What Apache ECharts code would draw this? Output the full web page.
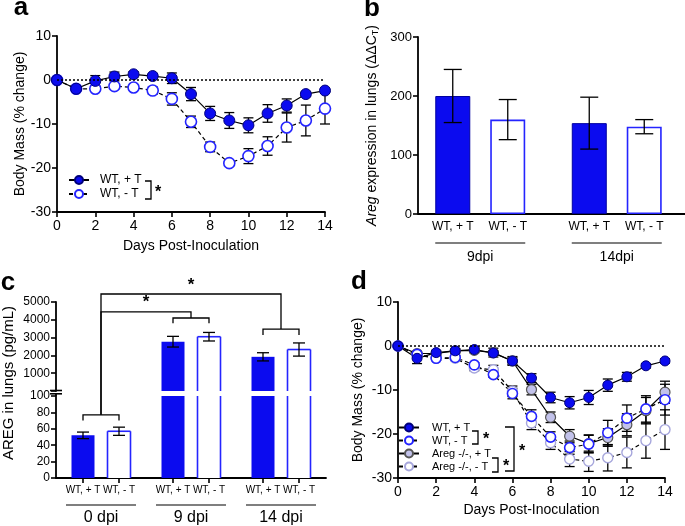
<!DOCTYPE html>
<html><head><meta charset="utf-8">
<script src="https://cdn.jsdelivr.net/npm/echarts@6/dist/echarts.min.js"></script>
<style>html,body{margin:0;padding:0;background:#fff}#c{width:685px;height:526px}</style>
</head><body><div id="c"></div>
<script>
// ---------------- DATA ----------------
const days = [0,1,2,3,4,5,6,7,8,9,10,11,12,13,14];

// panel a : body mass (% change)
const aPlus     = [0,-2.0,-0.2,0.8,1.3,0.9,0.4,-3.2,-7.6,-9.2,-10.3,-7.6,-5.8,-3.2,-2.4];
const aPlusErr  = [0,0.5,1.2,1.0,0.6,0.5,1.2,1.5,1.6,1.8,1.7,2.0,1.5,0.5,0.5];
const aMinus    = [0,-2.0,-2.0,-1.4,-1.7,-2.4,-4.3,-9.5,-15.2,-18.9,-17.3,-15.0,-10.8,-9.2,-6.5];
const aMinusErr = [0,0.4,0.5,0.5,0.5,0.8,1.4,1.3,1.1,0.5,1.7,2.1,3.3,3.5,3.5];

// panel b : Areg expression
const bGroups   = ['9dpi','14dpi'];
const bPlus     = [200,154];
const bPlusErr  = [45,44];
const bMinus    = [160,148];
const bMinusErr = [34,12];

// panel c : AREG protein (pg/mL)
const cGroups   = ['0 dpi','9 dpi','14 dpi'];
const cPlus     = [52,2770,1920];
const cPlusErr  = [4,300,230];
const cMinus    = [57,3050,2330];
const cMinusErr = [5,240,370];

// panel d : body mass (% change)
const dWTp     = [0,-2.8,-1.5,-1.1,-0.8,-1.6,-3.4,-7.3,-11.7,-12.9,-11.7,-8.9,-7.0,-4.5,-3.4];
const dWTpErr  = [0,1.2,0.5,0.5,0.5,0.5,1.0,1.0,1.2,1.4,1.6,1.4,1.0,0.5,0.5];
const dWTm     = [0,-1.9,-2.8,-2.6,-4.3,-6.5,-10.8,-16.0,-20.7,-23.1,-22.3,-19.7,-16.4,-14.3,-12.2];
const dWTmErr  = [0,0.5,0.5,0.5,0.5,0.6,1.2,1.5,1.2,1.5,2.0,2.8,3.0,3.0,3.5];
const dKOp     = [0,-1.7,-1.7,-1.1,-1.0,-1.5,-3.4,-9.9,-16.2,-20.5,-22.2,-20.8,-17.9,-14.7,-10.5];
const dKOpErr  = [0,0.5,0.5,0.5,0.5,1.0,0.8,1.2,1.2,1.5,2.0,2.0,2.5,3.0,2.5];
const dKOm     = [0,-2.0,-2.8,-2.8,-5.0,-5.4,-10.3,-17.5,-22.0,-25.7,-26.2,-25.4,-24.2,-21.5,-19.0];
const dKOmErr  = [0,0.5,0.5,0.5,0.6,1.0,1.2,1.5,1.5,1.7,2.3,3.0,3.5,4.0,4.5];

const seriesNames = ['WT, + T','WT, - T','Areg -/-, + T','Areg -/-, - T'];

// ---------------- STYLE ----------------
const FONT = '"Liberation Sans", Arial, Helvetica, sans-serif';
const BLUE = '#0b0bef';
const OPENBLUE = '#2424ff';
const filledStyle = {color: BLUE, borderColor: '#00007a', borderWidth: 1};
const openStyle = {color: '#fff', borderColor: OPENBLUE, borderWidth: 1.6};
const koFilled = {color: '#c2c2ea', borderColor: '#555', borderWidth: 1.2};
const koOpen = {color: '#fff', borderColor: '#a6a6dc', borderWidth: 1.4};

function valAxis(o) {
  return Object.assign({
    type: 'value',
    axisLine: {show: true, onZero: false, lineStyle: {color: '#000', width: 1.8}},
    axisTick: {show: true, inside: false, length: 5, lineStyle: {color: '#000', width: 1.6}},
    axisLabel: {color: '#000', fontSize: 14, fontFamily: FONT, margin: 6},
    splitLine: {show: false},
    nameTextStyle: {color: '#000', fontSize: 14, fontFamily: FONT}
  }, o);
}

function errRender(capHalf, offsetPx) {
  return function (params, api) {
    const x = api.value(0), lo = api.value(1), hi = api.value(2);
    if (isNaN(lo) || isNaN(hi)) return null;
    const top = api.coord([x, hi]), bot = api.coord([x, lo]);
    const cx = top[0] + (offsetPx || 0);
    const st = {stroke: '#000', lineWidth: 1.3};
    return {type: 'group', children: [
      {type: 'line', shape: {x1: cx, y1: top[1], x2: cx, y2: bot[1]}, style: st},
      {type: 'line', shape: {x1: cx - capHalf, y1: top[1], x2: cx + capHalf, y2: top[1]}, style: st},
      {type: 'line', shape: {x1: cx - capHalf, y1: bot[1], x2: cx + capHalf, y2: bot[1]}, style: st}
    ]};
  };
}
function errData(xs, vals, errs, keep) {
  return vals.map((v, i) => (keep && !keep(v)) ? [xs[i], NaN, NaN] : [xs[i], v - errs[i], v + errs[i]]);
}
function errSeries(grid, xs, vals, errs, cap, off, keep, z) {
  return {type: 'custom', xAxisIndex: grid, yAxisIndex: grid, renderItem: errRender(cap, off),
    data: errData(xs, vals, errs, keep), encode: {x: 0, y: [1, 2]}, z: z || 1, silent: true, clip: false};
}
function lineSeries(grid, name, vals, item, dashed, extra) {
  return Object.assign({
    type: 'line', name: name, xAxisIndex: grid, yAxisIndex: grid,
    data: days.map((d, i) => [d, vals[i]]),
    symbol: 'circle', symbolSize: 11, itemStyle: item,
    lineStyle: {color: '#000', width: 1.2, type: dashed ? [4, 3] : 'solid'},
    z: 3, silent: true
  }, extra || {});
}
const zeroLine = {silent: true, symbol: 'none', label: {show: false},
  lineStyle: {type: [2, 2], color: '#000', width: 1.6}, data: [{yAxis: 0}], animation: false};

// ---------------- LAYOUT ----------------
const grids = [
  {left: 57, top: 36, width: 268, height: 176},    // a
  {left: 412, top: 37, width: 280, height: 177},   // b
  {left: 56, top: 302, width: 270, height: 89},    // c upper
  {left: 56, top: 396, width: 270, height: 82},    // c lower
  {left: 398, top: 302, width: 267, height: 176}   // d
];
const B_AXIS_X = 418;
const C_LOW_MAX = 100, C_HIGH_MAX = 5000;
const bOff = 27.5, cOff = 18, CBW = 23;

const xAxes = [
  valAxis({gridIndex: 0, min: 0, max: 14, interval: 2, name: 'Days Post-Inoculation', nameLocation: 'middle', nameGap: 27,
    axisLabel: {color: '#000', fontSize: 14, fontFamily: FONT, margin: 7}}),
  {type: 'category', gridIndex: 1, data: bGroups, axisLine: {show: false},
    axisTick: {show: false}, axisLabel: {color: '#000', fontSize: 14, fontFamily: FONT, margin: 36}},
  {type: 'category', gridIndex: 2, data: cGroups, show: false},
  {type: 'category', gridIndex: 3, data: cGroups, axisLine: {lineStyle: {color: '#000', width: 1.8}},
    axisTick: {show: false}, axisLabel: {color: '#000', fontSize: 16, fontFamily: FONT, margin: 32}},
  valAxis({gridIndex: 4, min: 0, max: 14, interval: 2, name: 'Days Post-Inoculation', nameLocation: 'middle', nameGap: 25,
    axisLabel: {color: '#000', fontSize: 14, fontFamily: FONT, margin: 7}})
];
const yAxes = [
  valAxis({gridIndex: 0, min: -30, max: 10, interval: 10, name: 'Body Mass (% change)', nameLocation: 'middle', nameGap: 30}),
  valAxis({gridIndex: 1, min: 0, max: 300, interval: 100, nameLocation: 'middle', nameGap: 38, offset: -(B_AXIS_X - 412),
    name: '{i|Areg} expression in lungs (ΔΔC{s|T})',
    axisLabel: {color: '#000', fontSize: 13, fontFamily: FONT, margin: 6},
    nameTextStyle: {color: '#000', fontSize: 14, fontFamily: FONT,
      rich: {i: {fontStyle: 'italic', fontSize: 14, fontFamily: FONT, color: '#000'},
             s: {fontSize: 9, fontFamily: FONT, color: '#000', verticalAlign: 'bottom', padding: [6, 0, 0, 0]}}}}),
  valAxis({gridIndex: 2, min: 0, max: C_HIGH_MAX, interval: 1000,
    axisLabel: {color: '#000', fontSize: 12, fontFamily: FONT, margin: 6, formatter: v => v === 0 ? '' : String(v)}}),
  valAxis({gridIndex: 3, min: 0, max: C_LOW_MAX, interval: 20,
    axisLabel: {color: '#000', fontSize: 12, fontFamily: FONT, margin: 6}}),
  valAxis({gridIndex: 4, min: -30, max: 10, interval: 10, name: 'Body Mass (% change)', nameLocation: 'middle', nameGap: 33})
];

const series = [];
// panel a
series.push(errSeries(0, days, aPlus, aPlusErr, 5));
series.push(errSeries(0, days, aMinus, aMinusErr, 5));
series.push(lineSeries(0, seriesNames[0], aPlus, filledStyle, false, {markLine: zeroLine, z: 4}));
series.push(lineSeries(0, seriesNames[1], aMinus, openStyle, true));
// panel d
series.push(errSeries(4, days, dWTp, dWTpErr, 5));
series.push(errSeries(4, days, dWTm, dWTmErr, 5));
series.push(errSeries(4, days, dKOp, dKOpErr, 5));
series.push(errSeries(4, days, dKOm, dKOmErr, 5));
series.push(lineSeries(4, seriesNames[3], dKOm, koOpen, true, {symbolSize: 10}));
series.push(lineSeries(4, seriesNames[2], dKOp, koFilled, false, {symbolSize: 10}));
series.push(lineSeries(4, seriesNames[1], dWTm, openStyle, true, {symbolSize: 10}));
series.push(lineSeries(4, seriesNames[0], dWTp, filledStyle, false, {symbolSize: 10, markLine: zeroLine}));

// panel b : bar series
function barSeries(grid, vals, item, labelText) {
  return {type: 'bar', xAxisIndex: grid, yAxisIndex: grid, data: vals, barWidth: 35, barGap: '57%',
    itemStyle: item, z: 2, silent: true,
    label: {show: true, position: 'bottom', distance: 7, formatter: () => labelText,
      color: '#000', fontSize: 12, fontFamily: FONT}};
}
const bIdx = bGroups.map((g, i) => i);
const cIdx = cGroups.map((g, i) => i);
series.push(barSeries(1, bPlus, {color: BLUE, borderColor: '#0000a0', borderWidth: 1}, seriesNames[0]));
series.push(barSeries(1, bMinus, {color: '#fff', borderColor: OPENBLUE, borderWidth: 1.6}, seriesNames[1]));
series.push(errSeries(1, bIdx, bPlus, bPlusErr, 9, -bOff, null, 5));
series.push(errSeries(1, bIdx, bMinus, bMinusErr, 9, bOff, null, 5));

// panel c : broken axis, bars drawn per segment (clipped to each segment)
function cBar(grid, vals, open, off, yMin, yMax, labelText) {
  return {type: 'custom', xAxisIndex: grid, yAxisIndex: grid, silent: true, clip: false, z: 2,
    data: vals.map((v, i) => [i, v]), encode: {x: 0, y: 1},
    renderItem: function (params, api) {
      const cat = api.value(0), v = api.value(1);
      const base = api.coord([cat, yMin]);
      const cx = base[0] + off, x0 = cx - CBW / 2, x1 = cx + CBW / 2;
      const ch = [];
      if (labelText) ch.push({type: 'text', style: {text: labelText, x: cx, y: base[1] + 7, align: 'center',
        verticalAlign: 'top', font: '10px ' + FONT, fill: '#000'}});
      if (grid === 2 && v <= C_LOW_MAX) return {type: 'group', children: ch};
      const clipped = v > yMax;
      const top = api.coord([cat, clipped ? yMax : v]);
      ch.push({type: 'rect', shape: {x: x0, y: top[1], width: CBW, height: base[1] - top[1]},
        style: {fill: open ? '#fff' : BLUE}});
      if (open) {
        const st = {stroke: OPENBLUE, lineWidth: 1.6};
        ch.push({type: 'line', shape: {x1: x0, y1: base[1], x2: x0, y2: top[1]}, style: st});
        ch.push({type: 'line', shape: {x1: x1, y1: base[1], x2: x1, y2: top[1]}, style: st});
        if (!clipped) ch.push({type: 'line', shape: {x1: x0, y1: top[1], x2: x1, y2: top[1]}, style: st});
      }
      return {type: 'group', children: ch};
    }};
}
series.push(cBar(3, cPlus, false, -cOff, 0, C_LOW_MAX, seriesNames[0]));
series.push(cBar(3, cMinus, true, cOff, 0, C_LOW_MAX, seriesNames[1]));
series.push(cBar(2, cPlus, false, -cOff, 0, C_HIGH_MAX, ''));
series.push(cBar(2, cMinus, true, cOff, 0, C_HIGH_MAX, ''));
const hi = v => v > C_LOW_MAX;
const lo = v => v <= C_LOW_MAX;
series.push(errSeries(2, cIdx, cPlus, cPlusErr, 6, -cOff, hi, 5));
series.push(errSeries(2, cIdx, cMinus, cMinusErr, 6, cOff, hi, 5));
series.push(errSeries(3, cIdx, cPlus, cPlusErr, 6, -cOff, lo, 5));
series.push(errSeries(3, cIdx, cMinus, cMinusErr, 6, cOff, lo, 5));
// x ticks under each bar of panel c
series.push({type: 'custom', xAxisIndex: 3, yAxisIndex: 3, silent: true, clip: false, z: 1,
  data: cIdx.map(i => [i, 0]), encode: {x: 0, y: 1},
  renderItem: function (params, api) {
    const p = api.coord([api.value(0), 0]);
    const st = {stroke: '#000', lineWidth: 1.6};
    return {type: 'group', children: [
      {type: 'line', shape: {x1: p[0] - cOff, y1: p[1], x2: p[0] - cOff, y2: p[1] + 5}, style: st},
      {type: 'line', shape: {x1: p[0] + cOff, y1: p[1], x2: p[0] + cOff, y2: p[1] + 5}, style: st}
    ]};
  }});

const legends = [
  {left: 68, top: 174, orient: 'vertical', itemGap: 2, itemWidth: 20, itemHeight: 10, padding: 0,
    data: [seriesNames[0], seriesNames[1]], selectedMode: false,
    textStyle: {color: '#000', fontSize: 12, fontFamily: FONT, padding: [0, 0, 0, 6]}},
  {left: 398, top: 422, orient: 'vertical', itemGap: 2, itemWidth: 20, itemHeight: 10, padding: 0,
    data: seriesNames, selectedMode: false,
    textStyle: {color: '#000', fontSize: 11, fontFamily: FONT, padding: [0, 0, 0, 8]}}
];

const chart = echarts.init(document.getElementById('c'), null, {renderer: 'canvas'});
chart.setOption({
  animation: false, backgroundColor: '#fff',
  grid: grids, xAxis: xAxes, yAxis: yAxes, series: series, legend: legends
});

// ---------------- ANNOTATIONS ----------------
const G = [];
const ST = {stroke: '#000', lineWidth: 1.3, fill: null};
function P(grid, cat, val) { return chart.convertToPixel({gridIndex: grid}, [cat, val]); }
function poly(pts) { G.push({type: 'polyline', shape: {points: pts}, style: Object.assign({}, ST), silent: true}); }
function txt(x, y, s, font, extra) {
  G.push(Object.assign({type: 'text', x: x, y: y, silent: true,
    style: {text: s, font: font, fill: '#000', align: 'center', verticalAlign: 'middle'}}, extra || {}));
}
// panel letters
const LF = 'bold 26px "Liberation Sans", Arial, sans-serif';
txt(21, 8, 'a', LF); txt(372, 9, 'b', LF); txt(8, 283, 'c', LF); txt(359, 282, 'd', LF);
// panel b x-axis line (starts at the y-axis)
{ const p0 = P(1, 0, 0); G.push({type: 'line', shape: {x1: B_AXIS_X, y1: p0[1], x2: 686, y2: p0[1]}, style: {stroke: '#000', lineWidth: 1.8}, silent: true}); }
// panel c y-axis name
G.push({type: 'text', x: 9, y: 383, rotation: Math.PI / 2, silent: true,
  style: {text: 'AREG in lungs (pg/mL)', font: '15px "Liberation Sans", Arial, sans-serif', fill: '#000', align: 'center', verticalAlign: 'middle'}});
// broken axis marks (panel c)
const axU = P(2, 0, 0), axL = P(3, 0, C_LOW_MAX);
const axX = grids[2].left;
G.push({type: 'line', shape: {x1: axX - 6, y1: axU[1] - 0.5, x2: axX + 6, y2: axU[1] - 0.5}, style: {stroke: '#000', lineWidth: 1.6}, silent: true});
G.push({type: 'line', shape: {x1: axX - 6, y1: axU[1] + 2.8, x2: axX + 6, y2: axU[1] + 2.8}, style: {stroke: '#000', lineWidth: 1.6}, silent: true});
G.push({type: 'line', shape: {x1: axX, y1: axU[1] + 2.8, x2: axX, y2: axL[1]}, style: {stroke: '#000', lineWidth: 1.8}, silent: true});
// group underlines
bIdx.forEach(i => { const p = P(1, i, 0); G.push({type: 'line', shape: {x1: p[0] - 45, y1: p[1] + 29, x2: p[0] + 45, y2: p[1] + 29}, style: {stroke: '#000', lineWidth: 1.2}, silent: true}); });
cIdx.forEach(i => { const p = P(3, i, 0); G.push({type: 'line', shape: {x1: p[0] - 35, y1: p[1] + 27, x2: p[0] + 35, y2: p[1] + 27}, style: {stroke: '#000', lineWidth: 1.2}, silent: true}); });
// significance brackets (panel c)
const bracketLow = {lvl: 77, tip: 70};
const bracketHigh = [{g: 1, lvl: 4100, tip: 3800}, {g: 2, lvl: 3480, tip: 3150}];
const connectors = [{g: 2, lvl: 5450}, {g: 1, lvl: 4450}];
{
  const l = P(3, 0, bracketLow.lvl), t = P(3, 0, bracketLow.tip);
  poly([[l[0] - cOff, t[1]], [l[0] - cOff, l[1]], [l[0] + cOff, l[1]], [l[0] + cOff, t[1]]]);
  bracketHigh.forEach(b => {
    const q = P(2, b.g, b.lvl), r = P(2, b.g, b.tip);
    poly([[q[0] - cOff, r[1]], [q[0] - cOff, q[1]], [q[0] + cOff, q[1]], [q[0] + cOff, r[1]]]);
  });
  connectors.forEach(c => {
    const s = P(2, 0, c.lvl), e = P(2, c.g, c.lvl);
    const end = P(2, c.g, bracketHigh.find(b => b.g === c.g).lvl);
    poly([[l[0], l[1]], [s[0], s[1]], [e[0], e[1]], [e[0], end[1]]]);
    txt((s[0] + e[0]) / 2, s[1] - 9, '*', 'bold 17px "Liberation Sans", Arial, sans-serif');
  });
}
// legend brackets
const SF = 'bold 16px "Liberation Sans", Arial, sans-serif';
poly([[145, 181], [151, 181], [151, 199], [145, 199]]); txt(158, 193, '*', SF);
poly([[472, 431], [478, 431], [478, 444], [472, 444]]); txt(486, 440, '*', SF);
poly([[492, 458], [498, 458], [498, 472], [492, 472]]); txt(506, 467, '*', SF);
poly([[505, 427], [514, 427], [514, 471], [505, 471]]); txt(522, 452, '*', SF);

chart.setOption({graphic: G});
</script>
</body></html>
